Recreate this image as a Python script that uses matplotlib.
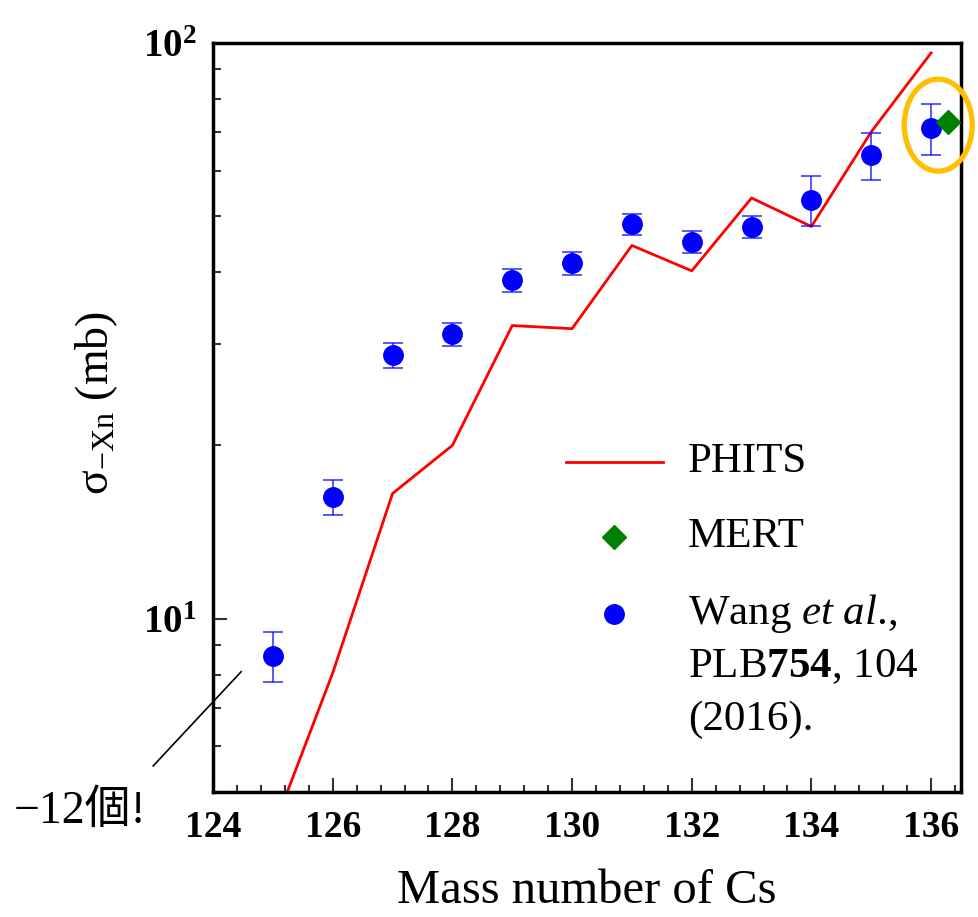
import matplotlib
matplotlib.use("Agg")
import matplotlib.pyplot as plt
from matplotlib.patches import Ellipse
from matplotlib.ticker import MultipleLocator, LogLocator, FixedLocator, FixedFormatter, NullFormatter
import numpy as np

# PHITS calculation
phits_mass = [125, 126, 127, 128, 129, 130, 131, 132, 133, 134, 135, 136]
phits_xs = [4.3, 8.05, 16.5, 20.0, 32.3, 31.9, 44.5, 40.2, 53.8, 48.0, 70.1, 96.1]

# MERT
mert_mass = [136.29]
mert_xs = [72.9]

# Wang et al., PLB 754, 104 (2016)
wang_mass = [125, 126, 127, 128, 129, 130, 131, 132, 133, 134, 135, 136]
wang_xs = [8.62, 16.3, 28.7, 31.2, 38.7, 41.5, 48.4, 45.1, 48.0, 53.4, 63.8, 71.2]
wang_err = [0.85, 1.15, 1.4, 1.45, 1.75, 1.9, 2.0, 2.0, 2.1, 5.3, 6.0, 7.2]

plt.rcParams['font.family'] = ['Liberation Serif', 'Noto Sans CJK JP']
plt.rcParams['mathtext.fontset'] = 'custom'
plt.rcParams['mathtext.rm'] = 'Liberation Serif'
plt.rcParams['mathtext.it'] = 'Liberation Serif:italic'
plt.rcParams['mathtext.bf'] = 'Liberation Serif:bold'

fig = plt.figure(figsize=(9.79, 9.17), dpi=100)
ax = fig.add_axes([0.2176, 0.1363, 0.7640, 0.8168])

ax.plot(phits_mass, phits_xs, color='red', lw=2, zorder=2)
ax.errorbar(wang_mass, wang_xs, yerr=wang_err, fmt='none', ecolor='blue',
            alpha=0.7, elinewidth=1.3, capsize=7, capthick=1.3, zorder=3)
ax.plot(wang_mass, wang_xs, 'o', color='blue', ms=14, zorder=4)
ax.plot(mert_mass, mert_xs, 'D', color='green', ms=12, zorder=4, clip_on=False)

ax.set_yscale('log')
ax.set_xlim(124, 136.5)
ax.set_ylim(5, 100)

ax.xaxis.set_major_locator(MultipleLocator(2))
ax.xaxis.set_minor_locator(MultipleLocator(0.4))
ax.yaxis.set_major_locator(FixedLocator([10, 100]))
ax.yaxis.set_major_formatter(FixedFormatter([r'$\mathbf{10^{1}}$', r'$\mathbf{10^{2}}$']))
ax.yaxis.set_minor_locator(LogLocator(base=10, subs=np.arange(2, 10)))
ax.yaxis.set_minor_formatter(NullFormatter())

ax.tick_params(which='both', direction='in', top=False, right=False,
               color='#333333', width=1.5)
ax.tick_params(axis='x', which='major', length=10, labelsize=27, pad=13)
ax.tick_params(axis='x', which='minor', length=5)
ax.tick_params(axis='y', which='major', length=10, labelsize=28, pad=12)
ax.tick_params(axis='y', which='minor', length=6)
for lab in ax.get_xticklabels():
    lab.set_fontweight('bold')
for sp in ax.spines.values():
    sp.set_linewidth(2.5)

ax.set_xlabel('Mass number of Cs', fontsize=35, labelpad=17)
ax.set_ylabel(r'σ$_{\mathrm{-Xn}}$ (mb)', fontsize=33)
ax.yaxis.set_label_coords(-0.125, 0.52)

# legend drawn by hand so the circle sits on the first text line
ax.plot([0.472, 0.6016], [0.4406, 0.4406], color='red', lw=2, transform=ax.transAxes)
ax.plot([0.536], [0.3405], 'D', color='green', ms=12, transform=ax.transAxes)
ax.plot([0.536], [0.2377], 'o', color='blue', ms=14, transform=ax.transAxes)
ax.text(0.635, 0.4406, 'PHITS', fontsize=31, va='center', transform=ax.transAxes)
ax.text(0.635, 0.3405, 'MERT', fontsize=31, va='center', transform=ax.transAxes)
ax.text(0.635, 0.2377, 'Wang $\\mathit{et\\ al}$.,', fontsize=31, va='center',
        transform=ax.transAxes)
ax.text(0.635, 0.1670, r'PLB$\mathbf{754}$, 104', fontsize=31, va='center',
        transform=ax.transAxes)
ax.text(0.635, 0.0962, '(2016).', fontsize=31, va='center', transform=ax.transAxes)

# annotation at the lower left
ax.plot([123.0, 124.47], [5.55, 8.09], color='black', lw=1.2, clip_on=False)
ax.text(121.78, 4.62, '−12個!', fontsize=33, ha='center', va='center')

# orange ring around the heaviest isotope
fig.canvas.draw()
cx, cy = ax.transData.transform((136.12, 72.0))
fx, fy = fig.transFigure.inverted().transform((cx, cy))
ring = Ellipse((fx, fy), 68 / 979, 92 / 917, transform=fig.transFigure,
               fill=False, edgecolor='#FFBF00', lw=3.8, zorder=5)
fig.patches.append(ring)

fig.savefig('out.png', dpi=100)
